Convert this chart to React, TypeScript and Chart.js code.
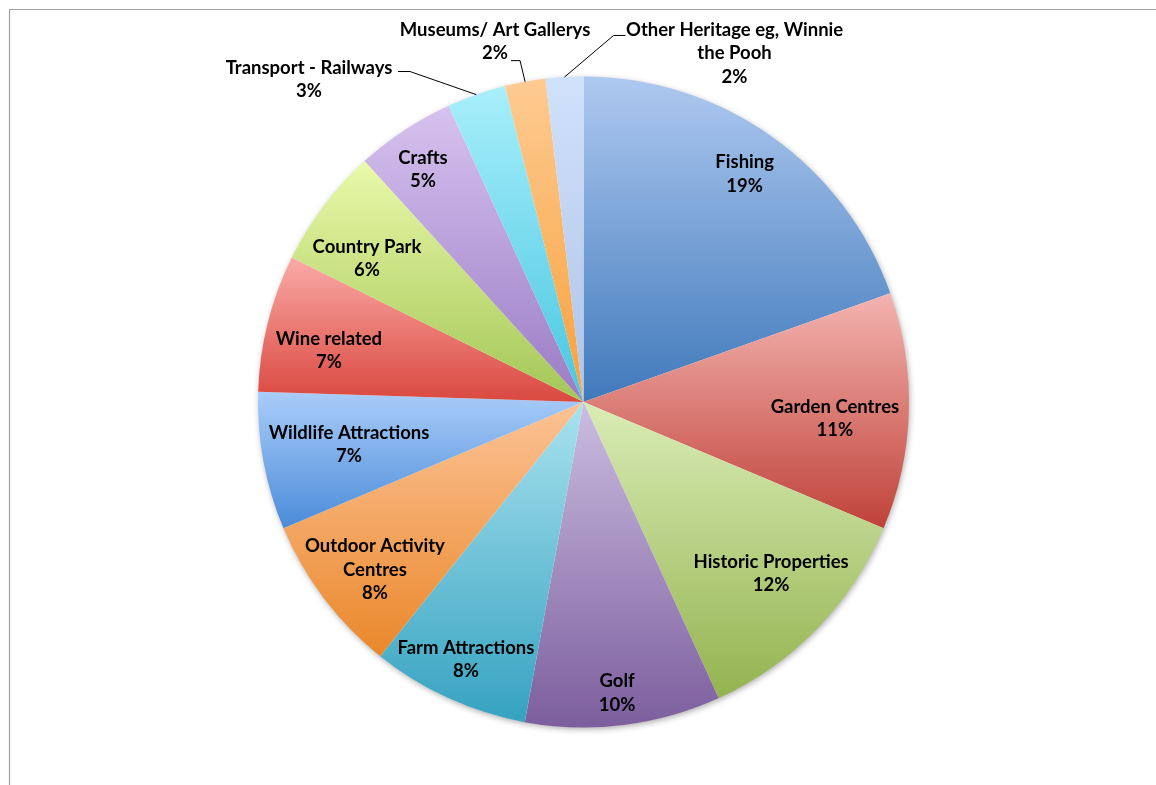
import React, { useEffect, useRef } from 'react';
import { Chart, registerables } from 'chart.js';

Chart.register(...registerables);

// ---- data ----
const categories = [
  'Fishing',
  'Garden Centres',
  'Historic Properties',
  'Golf',
  'Farm Attractions',
  'Outdoor Activity Centres',
  'Wildlife Attractions',
  'Wine related',
  'Country Park',
  'Crafts',
  'Transport - Railways',
  'Museums/ Art Gallerys',
  'Other Heritage eg, Winnie the Pooh',
];
const labelLines = [
  ['Fishing'],
  ['Garden Centres'],
  ['Historic Properties'],
  ['Golf'],
  ['Farm Attractions'],
  ['Outdoor Activity', 'Centres'],
  ['Wildlife Attractions'],
  ['Wine related'],
  ['Country Park'],
  ['Crafts'],
  ['Transport - Railways'],
  ['Museums/ Art Gallerys'],
  ['Other Heritage eg, Winnie', 'the Pooh'],
];
// slice sizes (share of total, %)
const shares = [19.58, 11.76, 11.84, 9.71, 7.85, 7.92, 6.84, 6.82, 5.94, 4.94, 2.92, 2.02, 1.86];
// percentage labels as printed on the chart
const percentLabels = ['19%', '11%', '12%', '10%', '8%', '8%', '7%', '7%', '6%', '5%', '3%', '2%', '2%'];

// ---- styles ----
const topColors = [
  '#aec9f0', '#f4b4b0', '#d9ecb6', '#cbbde0', '#a9e2ef', '#fcc396', '#aacdf9',
  '#fbaaa6', '#e9f9a9', '#d6c2ef', '#a8effb', '#fecb92', '#d0e1fb',
];
const bottomColors = [
  '#4079bb', '#bf4239', '#94b34f', '#7c5e9e', '#35a2c0', '#ea872a', '#4b8bd9',
  '#d9483f', '#a3c656', '#9a7cc4', '#48c6e1', '#f7a03b', '#aec3e6',
];
// label placement: fraction of radius along mid-angle, angle offset (deg)
const labelRadius = [0.858, 0.774, 0.781, 0.9, 0.87, 0.822, 0.732, 0.798, 0.798, 0.868, 1.301, 1.14, 1.167];
const labelAngleShift = [0, 2.1, -1.7, 0.5, 0, -1.7, 0.24, -2.64, -3.5, -1.25, -21.18, -3.46, 26.78];
// leader line: elbow offset from label centre (dx, dy), and horizontal end dx
const leaders: (null | { ex: number; ey: number; hx: number })[] = [
  null, null, null, null, null, null, null, null, null, null,
  { ex: 101, ey: -8, hx: 89 },
  { ex: 25, ey: 19, hx: 16 },
  { ex: -121, ey: -18, hx: -109 },
];

const FONT = 'bold 18.5px Lato, "Noto Sans", sans-serif';
const LINE_H = 23.5;

function arcYRange(cy: number, r: number, s: number, e: number) {
  let min = cy;
  let max = cy;
  const n = 64;
  for (let k = 0; k <= n; k++) {
    const a = s + ((e - s) * k) / n;
    const y = cy + r * Math.sin(a);
    if (y < min) min = y;
    if (y > max) max = y;
  }
  return [min, max];
}

const frame = {
  id: 'frame',
  beforeDraw(chart: any) {
    const ctx = chart.ctx;
    ctx.save();
    ctx.strokeStyle = '#a3a3a3';
    ctx.lineWidth = 1.2;
    ctx.beginPath();
    ctx.moveTo(9.5, chart.height);
    ctx.lineTo(9.5, 9.5);
    ctx.lineTo(chart.width, 9.5);
    ctx.stroke();
    ctx.restore();
  },
};

const gradientShadow = {
  id: 'gradientShadow',
  beforeDatasetsDraw(chart: any) {
    const meta = chart.getDatasetMeta(0);
    const ctx = chart.ctx;
    if (!meta.data.length) return;
    const first = meta.data[0];
    const { x, y, outerRadius } = first.getProps(['x', 'y', 'outerRadius'], true);
    ctx.save();
    ctx.shadowColor = 'rgba(0,0,0,0.35)';
    ctx.shadowBlur = 6;
    ctx.shadowOffsetX = 1;
    ctx.shadowOffsetY = 2;
    ctx.fillStyle = '#ffffff';
    ctx.beginPath();
    ctx.arc(x, y, outerRadius - 0.5, 0, Math.PI * 2);
    ctx.fill();
    ctx.restore();
    meta.data.forEach((el: any, i: number) => {
      const p = el.getProps(['x', 'y', 'startAngle', 'endAngle', 'outerRadius'], true);
      const [y0, y1] = arcYRange(p.y, p.outerRadius, p.startAngle, p.endAngle);
      const g = ctx.createLinearGradient(0, y0, 0, y1);
      g.addColorStop(0, topColors[i]);
      g.addColorStop(1, bottomColors[i]);
      el.options.backgroundColor = g;
    });
  },
};

const labelsPlugin = {
  id: 'sliceLabels',
  afterDatasetsDraw(chart: any) {
    const meta = chart.getDatasetMeta(0);
    const ctx = chart.ctx;
    ctx.save();
    ctx.font = FONT;
    ctx.fillStyle = '#000';
    ctx.textAlign = 'center';
    ctx.textBaseline = 'middle';
    meta.data.forEach((el: any, i: number) => {
      const p = el.getProps(['x', 'y', 'startAngle', 'endAngle', 'outerRadius'], true);
      const mid = (p.startAngle + p.endAngle) / 2;
      const a = mid + (labelAngleShift[i] * Math.PI) / 180;
      const cx = p.x + labelRadius[i] * p.outerRadius * Math.cos(a);
      const cy = p.y + labelRadius[i] * p.outerRadius * Math.sin(a);
      const lines = [...labelLines[i], percentLabels[i]];
      const top = cy - ((lines.length - 1) * LINE_H) / 2;
      lines.forEach((t, k) => ctx.fillText(t, cx, top + k * LINE_H));
      const ld = leaders[i];
      if (ld) {
        const ex = p.x + p.outerRadius * Math.cos(mid);
        const ey = p.y + p.outerRadius * Math.sin(mid);
        ctx.save();
        ctx.strokeStyle = '#000';
        ctx.lineWidth = 1;
        ctx.beginPath();
        ctx.moveTo(ex, ey);
        ctx.lineTo(cx + ld.ex, cy + ld.ey);
        ctx.lineTo(cx + ld.hx, cy + ld.ey);
        ctx.stroke();
        ctx.restore();
      }
    });
    ctx.restore();
  },
};

export default function App() {
  const ref = useRef<HTMLCanvasElement>(null);
  useEffect(() => {
    if (!ref.current) return;
    const chart = new Chart(ref.current, {
      type: 'pie',
      data: {
        labels: categories,
        datasets: [
          {
            data: shares,
            backgroundColor: topColors,
            borderWidth: 0,
          },
        ],
      },
      options: {
        animation: false,
        responsive: false,
        devicePixelRatio: 1,
        layout: { padding: { left: 199.5, right: 188.5, top: 76.5, bottom: 57.5 } },
        plugins: {
          legend: { display: false },
          tooltip: { enabled: false },
        },
      },
      plugins: [frame, gradientShadow, labelsPlugin],
    });
    return () => chart.destroy();
  }, []);
  return (
    <div style={{ position: 'fixed', left: 0, top: 0, width: 1156, height: 785, background: '#fff' }}>
      <canvas ref={ref} width={1156} height={785} style={{ display: 'block' }} />
    </div>
  );
}
